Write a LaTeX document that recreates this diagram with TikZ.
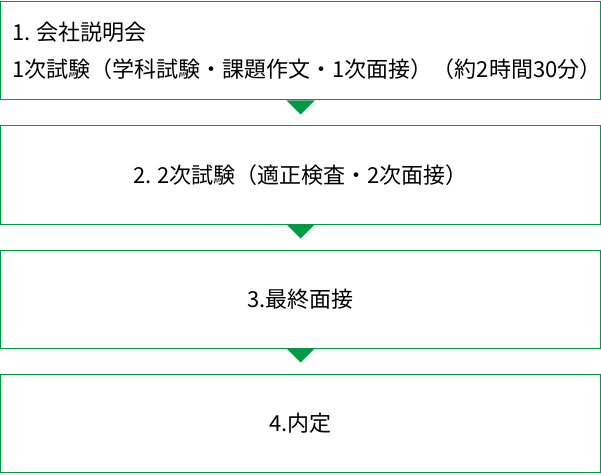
\documentclass[tikz,border=0pt]{standalone}
\usepackage{fontspec}
\setmainfont{Noto Sans CJK JP}
\usetikzlibrary{positioning}
\usetikzlibrary{calc}
\definecolor{ColorStep}{RGB}{0,153,68}

\begin{document}
\begin{tikzpicture}[x=1bp,y=1bp,
	stepbox/.style={rectangle, draw=ColorStep, line width=1bp, minimum width=599bp, minimum height=98bp, inner sep=0bp, font=\fontsize{22bp}{37bp}\selectfont},
	first/.style={text width=576bp, align=left},
	pointer/.style={fill=ColorStep}]
	
	\useasboundingbox (0,0) rectangle (601,-475);
	
	% Steps
	\node[stepbox, first] (S1) at (300.5,-51) {1.\hspace{0.25em}会社説明会\\1次試験（学科試験・課題作文・1次面接）（約2時間30分）};
	\node[stepbox, below = 25bp of S1] (S2) {2.\hspace{0.25em}2次試験（適正検査・2次面接）};
	\node[stepbox, below = 25bp of S2] (S3) {3.最終面接};
	\node[stepbox, below = 25bp of S3] (S4) {4.内定};
	
	% Pointers
	\fill[pointer] ($(S1.south)+(-14,0)$) -- ($(S1.south)+(14,0)$) -- ($(S1.south)+(0,-14)$) -- cycle;
	\fill[pointer] ($(S2.south)+(-14,0)$) -- ($(S2.south)+(14,0)$) -- ($(S2.south)+(0,-14)$) -- cycle;
	\fill[pointer] ($(S3.south)+(-14,0)$) -- ($(S3.south)+(14,0)$) -- ($(S3.south)+(0,-14)$) -- cycle;
	
\end{tikzpicture}
\end{document}
